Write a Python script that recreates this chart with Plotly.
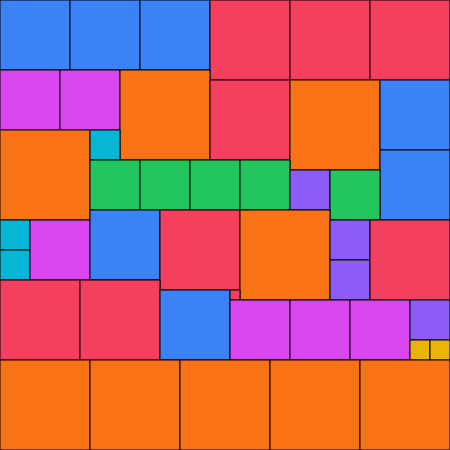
import plotly.graph_objects as go

# Square packing: left/top corner and side length of every square (chart units)
sq_x = [0, 70, 140, 210, 290, 370,
        0, 60, 120, 210, 290, 380, 380,
        0, 90, 90, 140, 190, 240, 290, 330,
        0, 0, 30, 90, 160, 240, 330, 330, 370,
        0, 80, 160, 230, 230, 290, 350, 410, 410, 430,
        0, 90, 180, 270, 360]
sq_y = [0, 0, 0, 0, 0, 0,
        70, 70, 70, 80, 80, 80, 150,
        130, 130, 160, 160, 160, 160, 170, 170,
        220, 250, 220, 210, 210, 210, 220, 260, 220,
        280, 280, 290, 290, 300, 300, 300, 300, 340, 340,
        360, 360, 360, 360, 360]
sq_size = [70, 70, 70, 80, 80, 80,
           60, 60, 90, 80, 90, 70, 70,
           90, 30, 50, 50, 50, 50, 40, 50,
           30, 30, 60, 70, 80, 90, 40, 40, 80,
           80, 80, 70, 10, 60, 60, 60, 40, 20, 20,
           90, 90, 90, 90, 90]

palette = {
    90: "#F97316",
    80: "#F43F5E",
    70: "#3B82F6",
    60: "#D946EF",
    50: "#22C55E",
    40: "#8B5CF6",
    30: "#06B6D4",
    20: "#EAB308",
    10: "#F43F5E",
}

fig = go.Figure()
fig.add_trace(go.Scatter(x=[0, 450], y=[0, 450], mode="markers",
                         marker=dict(opacity=0), hoverinfo="skip", showlegend=False))

for x, y, s in zip(sq_x, sq_y, sq_size):
    fig.add_shape(type="rect", xref="x", yref="y",
                  x0=x, y0=y, x1=x + s, y1=y + s,
                  fillcolor=palette[s], line=dict(color="#000000", width=1),
                  layer="above")

fig.update_layout(
    width=450, height=450,
    margin=dict(l=0, r=0, t=0, b=0),
    paper_bgcolor="#ffffff", plot_bgcolor="#ffffff",
    xaxis=dict(range=[0, 450], visible=False, fixedrange=True),
    yaxis=dict(range=[450, 0], visible=False, fixedrange=True),
    showlegend=False,
)

fig.write_html("out.html", config={"displayModeBar": False},
               post_script="document.body.style.margin='0';document.body.style.overflow='hidden';")
